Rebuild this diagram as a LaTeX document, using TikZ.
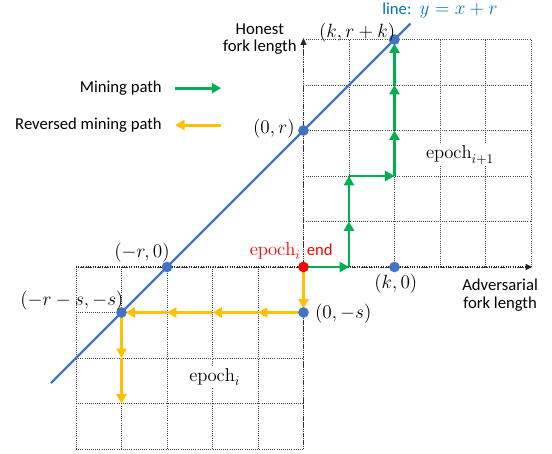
\documentclass[tikz,border=0pt]{standalone}
\usepackage{fontspec}
\newfontfamily\labelfont{Carlito}
\usetikzlibrary{arrows.meta,calc}
\definecolor{minegreen}{RGB}{0,176,80}
\definecolor{revgold}{RGB}{255,192,0}
\definecolor{lineblue}{RGB}{68,114,196}
\definecolor{labelblue}{RGB}{0,112,192}
\definecolor{endred}{RGB}{255,0,0}

\begin{document}
\begin{tikzpicture}[x=34.125pt, y=34.125pt, line join=round,
  gridline/.style={densely dotted, black!75, line width=0.6pt, step={(1,1)}},
  axisline/.style={densely dotted, black!85, line width=0.8pt, -{Triangle[length=5pt,width=4.5pt]}},
  minestep/.style={minegreen, line width=2.2pt, -{Triangle[length=7pt,width=7.5pt]}},
  revstep/.style={revgold, line width=2.2pt, -{Triangle[length=7pt,width=7.5pt]}},
  txt/.style={font=\labelfont\fontsize{12.5}{15}\selectfont, align=center, inner sep=1pt},
  mth/.style={font=\fontsize{14}{16}\selectfont, inner sep=1pt},
  dot/.style={circle, fill=#1, inner sep=0pt, minimum size=8pt}]

\useasboundingbox (-6.670,-4.110) rectangle (5.462,5.868);

% ============ GRIDS: epoch_i (lower left), epoch_{i+1} (upper right) ============
\draw[gridline] (-5,-4) grid (0,0);
\draw[gridline] (0,0) grid (5,5);

% axes
\draw[axisline] (0,-4) -- (0,5.03);
\draw[axisline] (-5,0) -- (5.03,0);

% ============ LINE y = x + r  (r = 3 cells) ============
\draw[lineblue, line width=1.8pt] (-5.55,-2.55) -- (2.35,5.35);

% ============ MINING PATH (green) ============
\foreach \xa/\ya/\xb/\yb in {0/0/1/0, 1/0/1/1, 1/1/1/2, 1/2/2/2, 2/2/2/3, 2/3/2/4}
  \draw[minestep] (\xa,\ya) -- (\xb,\yb);
\draw[minestep, shorten >=3pt] (2,4) -- (2,5);

% ============ REVERSED MINING PATH (yellow) ============
\draw[revstep, shorten >=3pt] (0,0) -- (0,-1);
\foreach \xa/\xb in {0/-1, -1/-2, -2/-3}
  \draw[revstep] (\xa,-1) -- (\xb,-1);
\draw[revstep, shorten >=3pt] (-3,-1) -- (-4,-1);
\draw[revstep] (-4,-1) -- (-4,-2);
\draw[revstep] (-4,-2) -- (-4,-3);

% ============ POINTS ============
\node[dot=lineblue] (PtZr)   at (0,3)   {};
\node[dot=lineblue] (PtKrk)  at (2,5)   {};
\node[dot=lineblue] (PtMr)   at (-3,0)  {};
\node[dot=lineblue] (PtMrs)  at (-4,-1) {};
\node[dot=lineblue] (PtZs)   at (0,-1)  {};
\node[dot=lineblue] (PtKz)   at (2,0)   {};
\node[dot=endred]   (PtEnd)  at (0,0)   {};

% ============ LABELS ============
\node[txt] (yLabel) at (-0.96,5.01) {Honest\\[-2pt]fork length};
\node[txt] (xLabel) at (4.32,-0.62) {Adversarial\\[-2pt]fork length};
\node[mth, anchor=east] at ($(PtZr)+(-0.16,0.05)$) {$(0,r)$};
\node[mth] at (1.18,5.16) {$(k,r+k)$};
\node[mth, text=labelblue] at (3.0,5.63) {{\labelfont\fontsize{12.5}{15}\selectfont line:} $y=x+r$};
\node[mth] at (-3.55,0.31) {$(-r,0)$};
\node[mth] at (-5.09,-0.73) {$(-r-s,-s)$};
\node[mth, anchor=west] at ($(PtZs)+(0.22,-0.03)$) {$(0,-s)$};
\node[mth] at (2.03,-0.37) {$(k,0)$};
\node[mth, text=endred] at (-0.27,0.35) {$\mathrm{epoch}_i$ {\labelfont\fontsize{12.5}{15}\selectfont end}};
\node[mth, fill=white] at (3.44,2.46) {$\mathrm{epoch}_{i+1}$};
\node[mth, fill=white] at (-1.95,-2.42) {$\mathrm{epoch}_i$};

% ============ LEGEND ============
\node[txt, anchor=east] (legMine) at (-3.08,3.93) {Mining path};
\node[txt, anchor=east] (legRev)  at (-3.08,3.12) {Reversed mining path};
\coordinate (legMineA) at (-2.82,3.93);
\coordinate (legMineB) at (-1.81,3.93);
\coordinate (legRevA)  at (-1.81,3.12);
\coordinate (legRevB)  at (-2.82,3.12);
\draw[minestep] (legMineA) -- (legMineB);
\draw[revstep]  (legRevA) -- (legRevB);
\end{tikzpicture}
\end{document}
